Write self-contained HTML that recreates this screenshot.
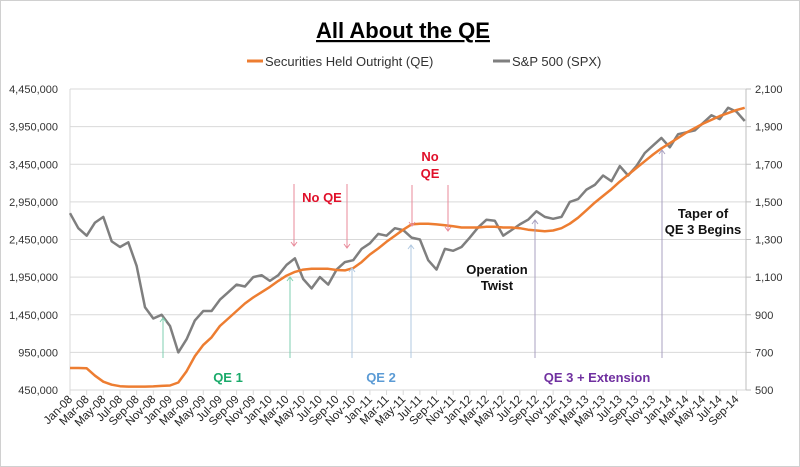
<!DOCTYPE html>
<html><head><meta charset="utf-8"><style>
body{margin:0;background:#fff;}
svg{display:block;font-family:"Liberation Sans",sans-serif;}
</style></head><body>
<svg id="chart" width="800" height="467" viewBox="0 0 800 467" xmlns="http://www.w3.org/2000/svg">
<rect x="0.5" y="0.5" width="799" height="466" fill="#fff" stroke="#d0d0d0"/>
<text x="403" y="38" text-anchor="middle" font-size="22" font-weight="bold" text-decoration="underline">All About the QE</text>
<line x1="247" y1="61" x2="263" y2="61" stroke="#ed7d31" stroke-width="3"/>
<text x="265" y="66" font-size="13" fill="#333">Securities Held Outright (QE)</text>
<line x1="493" y1="61" x2="510" y2="61" stroke="#7f7f7f" stroke-width="3"/>
<text x="512" y="66" font-size="13" fill="#333">S&amp;P 500 (SPX)</text>
<g id="grid"></g><g id="axes"></g><g id="series"></g><g id="notes"></g>
</svg>
<script>
const months=["Jan","Feb","Mar","Apr","May","Jun","Jul","Aug","Sep","Oct","Nov","Dec"];
const leftTicks=[450000,950000,1450000,1950000,2450000,2950000,3450000,3950000,4450000];
const rightTicks=[500,700,900,1100,1300,1500,1700,1900,2100];
const qeValues=[742000,742000,738000,640000,560000,520000,500000,495000,495000,495000,498000,505000,
510000,550000,700000,900000,1050000,1150000,1300000,1400000,1500000,1600000,1680000,1750000,
1820000,1900000,1970000,2020000,2050000,2060000,2060000,2060000,2045000,2040000,2070000,2150000,
2250000,2330000,2420000,2500000,2580000,2650000,2660000,2660000,2650000,2640000,2625000,2610000,
2610000,2610000,2620000,2620000,2610000,2610000,2600000,2580000,2570000,2560000,2570000,2600000,
2660000,2740000,2840000,2940000,3030000,3120000,3220000,3310000,3400000,3490000,3580000,3660000,
3730000,3800000,3870000,3930000,3990000,4040000,4090000,4130000,4170000,4200000];
const spxValues=[1440,1360,1320,1390,1420,1290,1260,1285,1160,940,880,900,
840,700,770,870,920,920,980,1020,1060,1050,1100,1110,
1080,1110,1165,1200,1090,1040,1100,1060,1140,1180,1190,1250,
1280,1330,1320,1360,1350,1310,1300,1190,1140,1250,1240,1260,
1310,1365,1405,1400,1320,1350,1380,1405,1450,1420,1410,1420,
1500,1515,1565,1590,1640,1610,1690,1640,1690,1760,1800,1840,
1790,1860,1870,1880,1920,1960,1940,2000,1980,1930];
const x0=70, dx=8.33, yTop=89, yBot=390;
function xPos(i){return x0+i*dx;}
function yL(v){return yBot-(v-450000)/4000000*(yBot-yTop);}
function yR(v){return yBot-(v-500)/1600*(yBot-yTop);}
const NS="http://www.w3.org/2000/svg";
function mk(t,a,p,txt){const e=document.createElementNS(NS,t);for(const k in a)e.setAttribute(k,a[k]);if(txt!==undefined)e.textContent=txt;p.appendChild(e);return e;}
const grid=document.getElementById('grid'),axes=document.getElementById('axes'),series=document.getElementById('series'),notes=document.getElementById('notes');
leftTicks.forEach((v,i)=>{
  const y=yL(v);
  const g=mk('line',{x1:x0,x2:746,y1:y,y2:y,stroke:'#d9d9d9','stroke-width':1},grid);
  
  
  const t=mk('text',{x:58,y:y+4,'text-anchor':'end','font-size':11,fill:'#333'},axes,v.toLocaleString('en-US'));
  
  
});
rightTicks.forEach((v,i)=>{
  const y=yR(v);
  const t=mk('text',{x:755,y:y+4,'font-size':11,fill:'#333'},axes,v.toLocaleString('en-US'));
  
  
  const tk=mk('line',{x1:746,x2:751,y1:y,y2:y,stroke:'#bfbfbf'},axes);
  
  
});
const la=mk('line',{x1:x0,x2:x0,y1:yTop,y2:yBot,stroke:'#d9d9d9'},axes);


const ra=mk('line',{x1:746,x2:746,y1:yTop,y2:yBot,stroke:'#bfbfbf'},axes);


for(let i=0;i<qeValues.length;i+=2){
  const x=xPos(i);
  const tk=mk('line',{x1:x,x2:x,y1:yBot,y2:yBot+5,stroke:'#d9d9d9'},axes);
  
  
  const yr=String(8+Math.floor(i/12)).padStart(2,'0');
  const lab=months[i%12]+'-'+yr;
  const t=mk('text',{x:x+3,y:yBot+10,'text-anchor':'end','font-size':11.5,fill:'#222',transform:`rotate(-45 ${x+3} ${yBot+10})`},axes,lab);
  
  
}
const spxPath=spxValues.map((v,i)=>(i?'L':'M')+xPos(i).toFixed(1)+','+yR(v).toFixed(1)).join('');
const sp=mk('path',{d:spxPath,fill:'none',stroke:'#7f7f7f','stroke-width':2.5,'stroke-linejoin':'round'},series);


const qePath=qeValues.map((v,i)=>(i?'L':'M')+xPos(i).toFixed(1)+','+yL(v).toFixed(1)).join('');
const qp=mk('path',{d:qePath,fill:'none',stroke:'#ed7d31','stroke-width':2.5,'stroke-linejoin':'round'},series);


function arrow(x,yFrom,yTo,col,name){
  const l=mk('line',{x1:x,x2:x,y1:yFrom,y2:yTo,stroke:col,'stroke-width':1},notes);
  
  
  const s=yTo<yFrom?4:-4;
  mk('path',{d:`M${x-3},${yTo+s} L${x},${yTo} L${x+3},${yTo+s}`,fill:'none',stroke:col,'stroke-width':1},notes);
}
arrow(163,358,318,'#7fcfb0','qe1-start-arrow');
arrow(290,358,277,'#7fcfb0','qe1-end-arrow');
arrow(294,184,246,'#e88a9a','no-qe-arrow-1');
arrow(347,184,248,'#e88a9a','no-qe-arrow-2');
arrow(352,358,268,'#b0c8e0','qe2-start-arrow');
arrow(411,358,245,'#b0c8e0','qe2-end-arrow');
arrow(412,185,226,'#e88a9a','no-qe-arrow-3');
arrow(448,185,231,'#e88a9a','no-qe-arrow-4');
arrow(535,358,220,'#a8a0c0','qe3-start-arrow');
arrow(662,358,150,'#a8a0c0','taper-arrow');
function note(x,y,txt,col,name){
  const t=mk('text',{x:x,y:y,'text-anchor':'middle','font-size':13,'font-weight':'bold',fill:col},notes,txt);
  
  
}
note(228,382,'QE 1','#1aaa6a','qe1-label');
note(322,202,'No QE','#e0102a','no-qe-label-1');
note(381,382,'QE 2','#5b9bd5','qe2-label');
note(430,161,'No','#e0102a','no-qe-label-2a');
note(430,178,'QE','#e0102a','no-qe-label-2b');
note(497,274,'Operation','#111','operation-twist-label-a');
note(497,290,'Twist','#111','operation-twist-label-b');
note(597,382,'QE 3 + Extension','#7030a0','qe3-label');
note(703,218,'Taper of','#111','taper-label-a');
note(703,234,'QE 3 Begins','#111','taper-label-b');
</script>
</body></html>
